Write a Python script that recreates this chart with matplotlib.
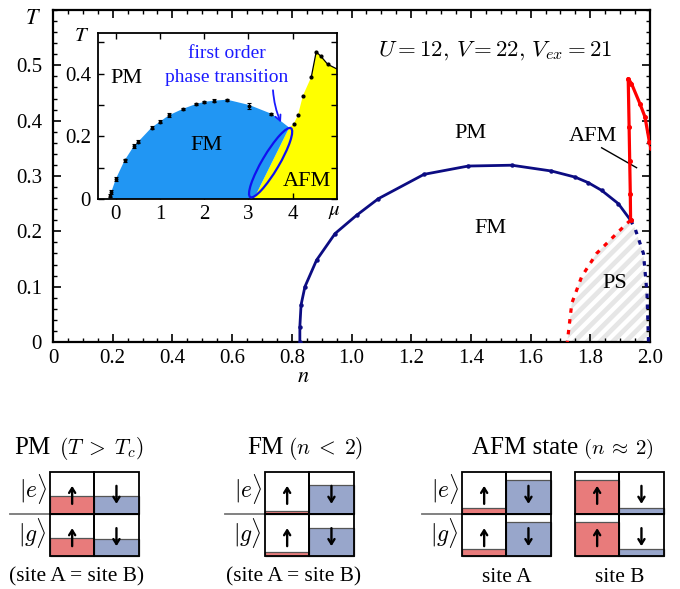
import matplotlib
matplotlib.use('Agg')
import matplotlib.pyplot as plt
import numpy as np
from matplotlib.patches import Ellipse, Rectangle, Polygon
from matplotlib import transforms
from matplotlib.ticker import MultipleLocator, FixedLocator

plt.rcParams['font.family'] = ['Liberation Serif', 'DejaVu Serif']
plt.rcParams['mathtext.fontset'] = 'stix'

# ---------------- data: main panel ----------------
fm_n = [0.827, 0.827, 0.831, 0.844, 0.883, 0.945, 1.017, 1.09, 1.243, 1.391, 1.537,
        1.67, 1.749, 1.793, 1.838, 1.894, 1.935]
fm_T = [0.0, 0.028, 0.067, 0.100, 0.148, 0.196, 0.229, 0.259, 0.303, 0.318, 0.3195,
        0.309, 0.298, 0.288, 0.274, 0.250, 0.220]
afm_n = [1.935, 1.934, 1.932, 1.930, 1.927, 1.938, 1.966, 1.983, 1.998, 2.003]
afm_T = [0.220, 0.268, 0.328, 0.389, 0.476, 0.467, 0.431, 0.407, 0.3615, 0.35]
ps_red_n = [1.935, 1.922, 1.877, 1.821, 1.771, 1.738, 1.723]
ps_red_T = [0.220, 0.214, 0.190, 0.160, 0.118, 0.070, 0.0]
ps_blue_n = [1.935, 1.950, 1.978, 1.990, 1.995]
ps_blue_T = [0.220, 0.205, 0.160, 0.088, 0.0]
main_xticks = [0, 0.2, 0.4, 0.6, 0.8, 1.0, 1.2, 1.4, 1.6, 1.8, 2.0]
main_xticklabels = ['0', '0.2', '0.4', '0.6', '0.8', '1.0', '1.2', '1.4', '1.6', '1.8', '2.0']
main_yticks = [0, 0.1, 0.2, 0.3, 0.4, 0.5]
main_yticklabels = ['0', '0.1', '0.2', '0.3', '0.4', '0.5']

# ---------------- data: inset ----------------
dome_mu = [-0.14, -0.10, 0.0, 0.2, 0.41, 0.51, 0.81, 1.0, 1.2, 1.52, 1.81, 2.0, 2.21, 2.52, 3.02, 3.52]
dome_T = [0.011, 0.022, 0.063, 0.123, 0.169, 0.183, 0.228, 0.247, 0.267, 0.288, 0.303, 0.310, 0.314, 0.315, 0.298, 0.270]
dome_err = [0.006, 0.006, 0.006, 0.006, 0.006, 0.004, 0.006, 0.004, 0.006, 0.004, 0.004, 0.004, 0.005, 0.003, 0.010, 0.003]
fm_edge_mu = [-0.16, -0.14, -0.10, 0.0, 0.2, 0.41, 0.51, 0.81, 1.0, 1.2, 1.52, 1.81, 2.0, 2.21, 2.52, 3.02, 3.52, 3.92, 3.12]
fm_edge_T = [0.0, 0.011, 0.022, 0.063, 0.123, 0.169, 0.183, 0.228, 0.247, 0.267, 0.288, 0.303, 0.310, 0.314, 0.317, 0.300, 0.272, 0.228, 0.0]
afm_mu = [4.02, 4.12, 4.23, 4.42, 4.53, 4.64, 4.79]
afm_Tin = [0.239, 0.269, 0.330, 0.390, 0.470, 0.455, 0.430]
afm_edge_mu = [3.12, 3.92, 4.02, 4.12, 4.23, 4.42, 4.53, 4.64, 4.79, 5.0, 5.0]
afm_edge_T = [0.0, 0.228, 0.239, 0.269, 0.330, 0.390, 0.470, 0.455, 0.430, 0.415, 0.0]
afm_line_mu = [4.42, 4.53, 4.64, 4.79, 5.0]
afm_line_T = [0.390, 0.470, 0.455, 0.430, 0.415]
in_xticks = [0, 1, 2, 3, 4]
in_xticklabels = ['0', '1', '2', '3', '4']
in_yticks = [0, 0.2, 0.4]
in_yticklabels = ['0', '0.2', '0.4']

# ---------------- data: level diagrams ----------------
diagram_names = ['PM', 'FM', 'AFM A', 'AFM B']
# fill fraction of each cell
fill_e_up = [0.43, 0.08, 0.15, 0.80]
fill_e_down = [0.43, 0.69, 0.80, 0.15]
fill_g_up = [0.44, 0.10, 0.17, 0.80]
fill_g_down = [0.42, 0.68, 0.80, 0.17]

RED = '#e87b7b'
BLUE = '#98a6cb'
NAVY = '#0c0c82'

fig = plt.figure(figsize=(6.8, 5.89), dpi=100)

# ================= main axes =================
ax = fig.add_axes([53/680, 1-342/589, 597/680, 332/589])
ax.set_xlim(0, 2.0)
ax.set_ylim(0, 0.6)

ps_poly = Polygon(list(zip(ps_red_n + ps_blue_n[::-1], ps_red_T + ps_blue_T[::-1])),
                  closed=True, facecolor='none', edgecolor='none', transform=ax.transData)
ax.add_patch(ps_poly)
# diagonal grey stripes (45 degrees on screen) clipped to PS region
xs = np.array([1.5, 2.2])
for c in np.arange(1.10, 2.10, 0.043):
    ln, = ax.plot(xs, (xs - c) * 298.5 / 554, color='#e6e6e6', lw=3.4,
                  solid_capstyle='butt', zorder=1)
    ln.set_clip_path(ps_poly)

ax.plot(fm_n, fm_T, color=NAVY, lw=2.0, marker='o', ms=2.2, zorder=4)
ax.plot(afm_n, afm_T, color='red', lw=2.3, marker='o', ms=2.6, zorder=5)
ax.plot(ps_red_n, ps_red_T, color='red', lw=2.3, ls=(0, (1.4, 2.0)), zorder=3)
ax.plot(ps_blue_n, ps_blue_T, color=NAVY, lw=2.3, ls=(0, (1.4, 2.0)), zorder=3)

ax.text(1.397, 0.377, 'PM', fontsize=16, ha='center', va='center')
ax.text(1.464, 0.206, 'FM', fontsize=16, ha='center', va='center')
ax.text(1.883, 0.105, 'PS', fontsize=16, ha='center', va='center', zorder=6)
ax.text(1.81, 0.372, 'AFM', fontsize=16, ha='center', va='center')
ax.plot([1.838, 1.955], [0.351, 0.315], color='black', lw=1.0)
ax.text(1.48, 0.527, r'$U=12,\, V=22,\, V_{ex}=21$', fontsize=16.5, ha='center', va='center',
        math_fontfamily='cm')

ax.xaxis.set_major_locator(FixedLocator(main_xticks))
ax.set_xticklabels(main_xticklabels)
ax.yaxis.set_major_locator(FixedLocator(main_yticks))
ax.set_yticklabels(main_yticklabels)
ax.xaxis.set_minor_locator(MultipleLocator(0.05))
ax.yaxis.set_minor_locator(MultipleLocator(0.02))
ax.tick_params(which='both', direction='in', top=True, right=True, labelsize=15)
ax.tick_params(which='major', length=6, width=1.2)
ax.tick_params(which='minor', length=3, width=1.0)
ax.tick_params(axis='y', pad=8)
ax.tick_params(axis='x', pad=5)
for s in ax.spines.values():
    s.set_linewidth(1.6)
fig.text(33/680, 1-20/589, r'$T$', fontsize=16, ha='center', va='center')
fig.text(303/680, 1-378/589, r'$n$', fontsize=16, ha='center', va='center')

# ================= inset =================
ai = fig.add_axes([98/680, 1-199/589, 239/680, 166/589])
ai.set_xlim(-0.4, 5.0)
ai.set_ylim(0, 0.53)
ai.fill(afm_edge_mu, afm_edge_T, facecolor='#ffff00', edgecolor='none', zorder=1)
ai.fill(fm_edge_mu, fm_edge_T, facecolor='#2196f3', edgecolor='none', zorder=2)
ai.plot(afm_line_mu, afm_line_T, color='black', lw=0.9, zorder=3)
ai.errorbar(dome_mu, dome_T, yerr=dome_err, fmt='o', color='black', ms=1.8,
            capsize=1.5, elinewidth=0.8, capthick=0.8, zorder=4)
ai.plot(afm_mu, afm_Tin, 'o', color='black', ms=2.0, zorder=4)

ell_tr = fig.dpi_scale_trans + transforms.ScaledTranslation(3.50, 0.116, ai.transData)
ai.add_patch(Ellipse((0, 0), 0.80, 0.17, angle=59.5, transform=ell_tr,
                     facecolor='none', edgecolor='#1010f0', lw=1.6, zorder=5))
ai.text(2.51, 0.466, 'first order', color='#1a1aff', fontsize=14, ha='center', va='center')
ai.text(2.51, 0.389, 'phase transition', color='#1a1aff', fontsize=14, ha='center', va='center')
ai.annotate('', xy=(3.76, 0.236), xytext=(3.55, 0.356),
            arrowprops=dict(arrowstyle='->', color='#1a1aff', lw=1.3,
                            connectionstyle='arc3,rad=0.1'), zorder=6)
ai.text(0.25, 0.385, 'PM', fontsize=16, ha='center', va='center')
ai.text(2.06, 0.172, 'FM', fontsize=16, ha='center', va='center', zorder=6)
ai.text(4.32, 0.055, 'AFM', fontsize=16, ha='center', va='center', zorder=6)
ai.text(4.95, -0.04, r'$\mu$', fontsize=15, ha='center', va='center', clip_on=False)
ai.text(-0.77, 0.518, r'$T$', fontsize=15, ha='center', va='center', clip_on=False)

ai.xaxis.set_major_locator(FixedLocator(in_xticks))
ai.set_xticklabels(in_xticklabels)
ai.yaxis.set_major_locator(FixedLocator(in_yticks))
ai.set_yticklabels(in_yticklabels)
ai.yaxis.set_minor_locator(MultipleLocator(0.1))
ai.tick_params(which='both', direction='in', top=True, right=True, labelsize=15)
ai.tick_params(which='major', length=4, width=1.0)
ai.tick_params(which='minor', length=4, width=1.0)
ai.tick_params(axis='y', pad=5)
ai.tick_params(axis='x', pad=4)
for s in ai.spines.values():
    s.set_linewidth(1.3)

# ================= level diagrams =================
ad = fig.add_axes([0, 0, 1, 1], facecolor='none')
ad.set_xlim(0, 680)
ad.set_ylim(589, 0)
ad.axis('off')

box_left = [50, 265, 462, 575]
col_w = 44.3
top = 471.7
row_h = 42.3
sep_from = [10, 225, 421.7, None]

for i in range(4):
    x0 = box_left[i]
    fills = [(0, 0, fill_e_up[i], RED), (0, 1, fill_e_down[i], BLUE),
             (1, 0, fill_g_up[i], RED), (1, 1, fill_g_down[i], BLUE)]
    for row, col, frac, colr in fills:
        cx = x0 + col * col_w
        cy_bot = top + (row + 1) * row_h
        h = frac * row_h
        ad.add_patch(Rectangle((cx, cy_bot - h), col_w, h, facecolor=colr,
                               edgecolor='#555555', lw=0.9, zorder=1))
    for row in range(2):
        for col in range(2):
            ad.add_patch(Rectangle((x0 + col * col_w, top + row * row_h), col_w, row_h,
                                   facecolor='none', edgecolor='black', lw=1.3, zorder=2))
            xc = x0 + col * col_w + col_w / 2
            yc = top + row * row_h + row_h / 2 + 2
            if col == 0:
                y_from, y_to = yc + 9, yc - 9
            else:
                y_from, y_to = yc - 9, yc + 9
            ad.annotate('', xy=(xc, y_to), xytext=(xc, y_from),
                        arrowprops=dict(arrowstyle='->,head_length=0.35,head_width=0.22',
                                        color='black', lw=1.7, shrinkA=0, shrinkB=0),
                        zorder=3)
    if sep_from[i] is not None:
        ad.plot([sep_from[i], x0], [top + row_h, top + row_h], color='#777777', lw=1.3, zorder=0)
        ad.text(x0 - 3, top + row_h / 2 - 4, r'$|e\rangle$', fontsize=17, ha='right', va='center',
                math_fontfamily='cm')
        ad.text(x0 - 3, top + 1.5 * row_h - 2, r'$|g\rangle$', fontsize=17, ha='right', va='center',
                math_fontfamily='cm')

# titles
ad.text(50, 454, 'PM', fontsize=18, ha='right', va='baseline')
ad.text(59, 454, r'$(T\;>\;T_c)$', fontsize=15.5, ha='left', va='baseline', math_fontfamily='cm')
ad.text(284, 454, 'FM', fontsize=18, ha='right', va='baseline')
ad.text(288, 454, r'$(n\;<\;2)$', fontsize=15.5, ha='left', va='baseline', math_fontfamily='cm')
ad.text(578, 454, 'AFM state', fontsize=18, ha='right', va='baseline')
ad.text(583, 454, r'$(n\:\approx\:2)$', fontsize=15, ha='left', va='baseline', math_fontfamily='cm')

ad.text(76.7, 577, '(site A = site B)', fontsize=15.4, ha='center', va='center')
ad.text(293.3, 577, '(site A = site B)', fontsize=15.4, ha='center', va='center')
ad.text(506.7, 577, 'site A', fontsize=15.4, ha='center', va='center')
ad.text(619.3, 577, 'site B', fontsize=15.4, ha='center', va='center')

fig.savefig('out.png', dpi=100)
